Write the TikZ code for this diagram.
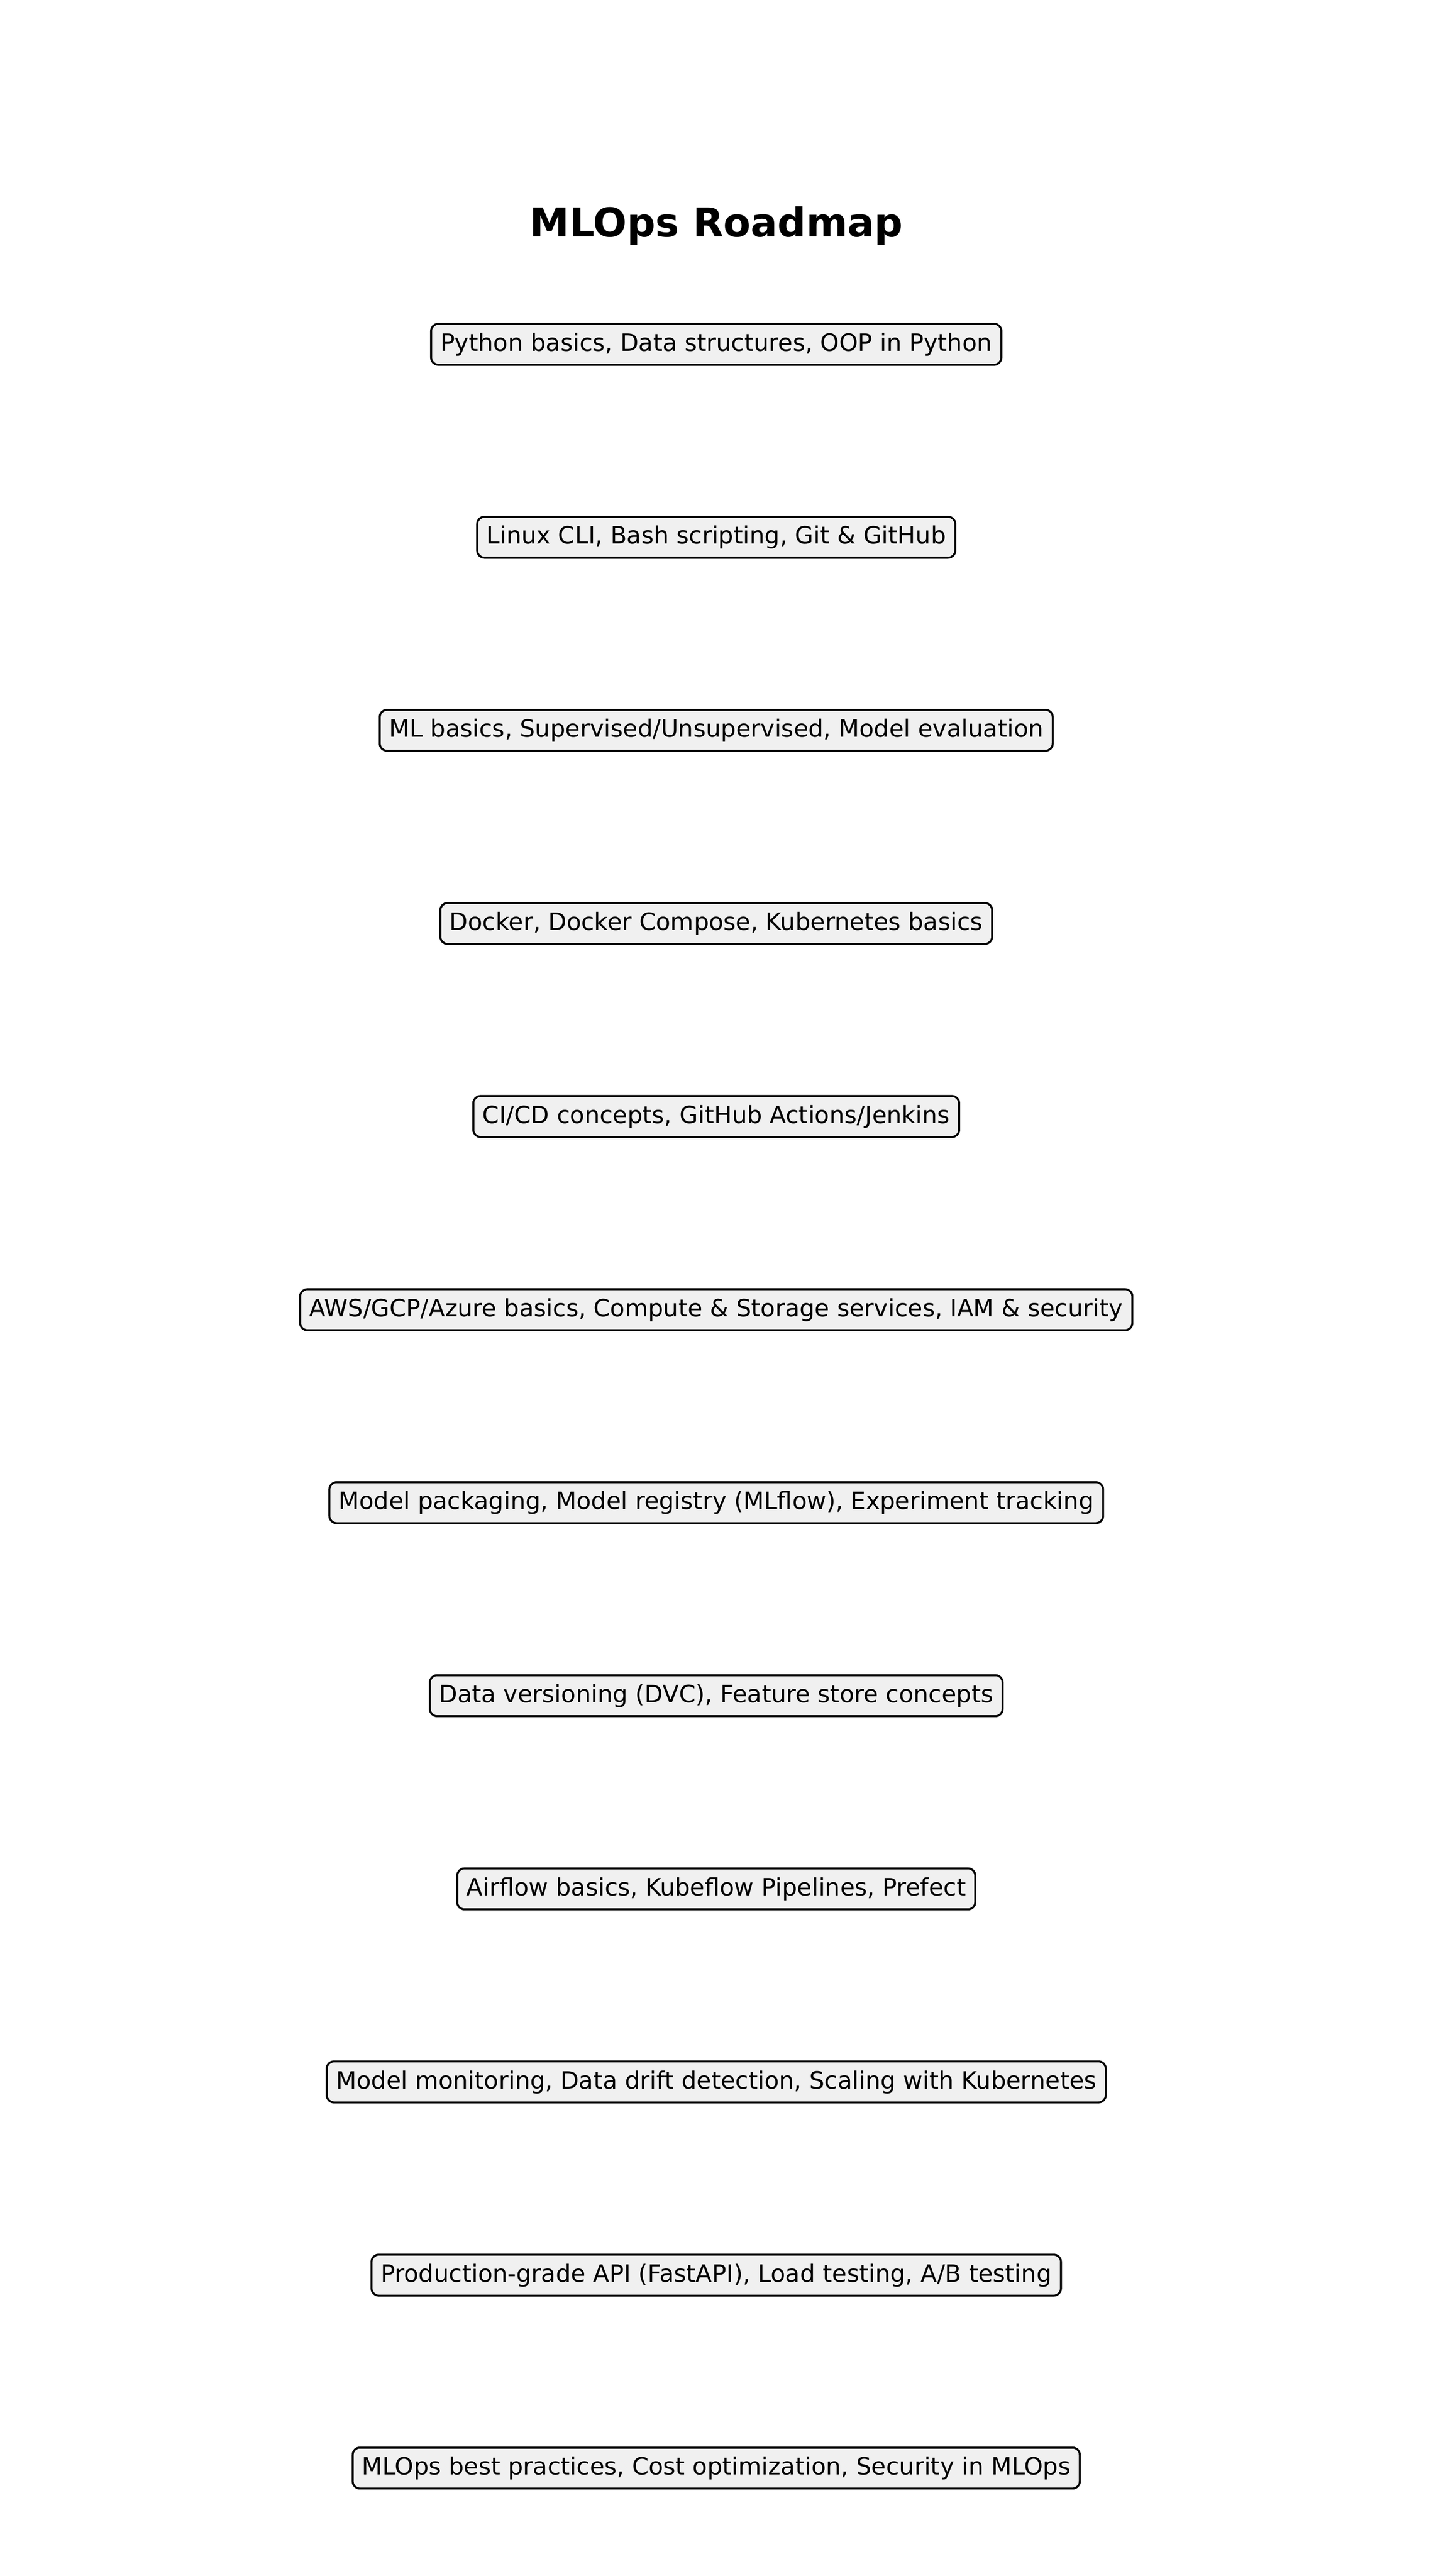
\documentclass[tikz,border=0pt]{standalone}
\usepackage{fontspec}
\setmainfont{DejaVu Sans}
\begin{document}
\begin{tikzpicture}[x=1pt,y=1pt,
  stagebox/.style={draw=black, line width=1pt, fill={rgb,255:red,240;green,240;blue,240},
    rounded corners=3.6pt, inner xsep=4.7pt, inner ysep=3.6pt,
    text height=10.1pt, text depth=3.3pt, font=\fontsize{12pt}{14pt}\selectfont, anchor=center},
  titlestyle/.style={font=\fontsize{20pt}{24pt}\selectfont\bfseries, anchor=base, inner sep=0pt}]
\useasboundingbox (0,0) rectangle (720,-1296);
\node[titlestyle] (title) at (360.5,-119.0) {MLOps Roadmap};
\node[stagebox] (s1) at (360.4,-173.2) {Python basics, Data structures, OOP in Python};
\node[stagebox] (s2) at (360.4,-270.3) {Linux CLI, Bash scripting, Git \& GitHub};
\node[stagebox] (s3) at (360.4,-367.4) {ML basics, Supervised/Unsupervised, Model evaluation};
\node[stagebox] (s4) at (360.4,-464.6) {Docker, Docker Compose, Kubernetes basics};
\node[stagebox] (s5) at (360.4,-561.7) {CI/CD concepts, GitHub Actions/Jenkins};
\node[stagebox] (s6) at (360.4,-658.9) {AWS/GCP/Azure basics, Compute \& Storage services, IAM \& security};
\node[stagebox] (s7) at (360.4,-756.0) {Model packaging, Model registry (MLflow), Experiment tracking};
\node[stagebox] (s8) at (360.4,-853.1) {Data versioning (DVC), Feature store concepts};
\node[stagebox] (s9) at (360.4,-950.3) {Airflow basics, Kubeflow Pipelines, Prefect};
\node[stagebox] (s10) at (360.4,-1047.4) {Model monitoring, Data drift detection, Scaling with Kubernetes};
\node[stagebox] (s11) at (360.4,-1144.6) {Production-grade API (FastAPI), Load testing, A/B testing};
\node[stagebox] (s12) at (360.4,-1241.7) {MLOps best practices, Cost optimization, Security in MLOps};
\end{tikzpicture}
\end{document}
